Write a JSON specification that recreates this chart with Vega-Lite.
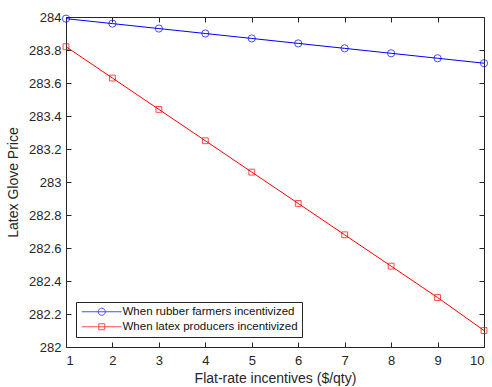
{
  "$schema": "https://vega.github.io/schema/vega-lite/v6.json",
  "width": 418,
  "height": 330,
  "autosize": {"type": "none"},
  "padding": {"left": 66, "top": 17, "right": 8, "bottom": 40},
  "background": "white",
  "config": {
    "font": "Liberation Sans",
    "view": {"stroke": "#262626", "strokeWidth": 1},
    "axis": {
      "grid": false,
      "domain": false,
      "tickColor": "#262626",
      "tickSize": -5,
      "labelColor": "#262626",
      "titleColor": "#262626",
      "labelFontSize": 13,
      "titleFontSize": 14,
      "titleFontWeight": "normal",
      "labelFont": "Liberation Sans",
      "titleFont": "Liberation Sans",
      "format": "~f"
    }
  },
  "data": {
    "values": [
      {"x": 1, "y": 283.99, "s": "When rubber farmers incentivized"},
      {"x": 2, "y": 283.96, "s": "When rubber farmers incentivized"},
      {"x": 3, "y": 283.93, "s": "When rubber farmers incentivized"},
      {"x": 4, "y": 283.90, "s": "When rubber farmers incentivized"},
      {"x": 5, "y": 283.87, "s": "When rubber farmers incentivized"},
      {"x": 6, "y": 283.84, "s": "When rubber farmers incentivized"},
      {"x": 7, "y": 283.81, "s": "When rubber farmers incentivized"},
      {"x": 8, "y": 283.78, "s": "When rubber farmers incentivized"},
      {"x": 9, "y": 283.75, "s": "When rubber farmers incentivized"},
      {"x": 10, "y": 283.72, "s": "When rubber farmers incentivized"},
      {"x": 1, "y": 283.82, "s": "When latex producers incentivized"},
      {"x": 2, "y": 283.63, "s": "When latex producers incentivized"},
      {"x": 3, "y": 283.44, "s": "When latex producers incentivized"},
      {"x": 4, "y": 283.25, "s": "When latex producers incentivized"},
      {"x": 5, "y": 283.06, "s": "When latex producers incentivized"},
      {"x": 6, "y": 282.87, "s": "When latex producers incentivized"},
      {"x": 7, "y": 282.68, "s": "When latex producers incentivized"},
      {"x": 8, "y": 282.49, "s": "When latex producers incentivized"},
      {"x": 9, "y": 282.30, "s": "When latex producers incentivized"},
      {"x": 10, "y": 282.10, "s": "When latex producers incentivized"}
    ]
  },
  "resolve": {"axis": {"x": "independent", "y": "independent"}},
  "layer": [
    {
      "mark": {"type": "line", "strokeWidth": 1},
      "encoding": {
        "x": {"field": "x", "type": "quantitative", "scale": {"domain": [1, 10], "nice": false}, "axis": {"values": [1,2,3,4,5,6,7,8,9,10], "title": "Flat-rate incentives ($/qty)", "labelPadding": 12, "titlePadding": 4}},
        "y": {"field": "y", "type": "quantitative", "scale": {"domain": [282, 284], "nice": false, "zero": false}, "axis": {"values": [282,282.2,282.4,282.6,282.8,283,283.2,283.4,283.6,283.8,284], "title": "Latex Glove Price", "labelPadding": 10, "titlePadding": 8}},
        "color": {
          "field": "s", "type": "nominal",
          "scale": {"domain": ["When rubber farmers incentivized", "When latex producers incentivized"], "range": ["#0000FF", "#FF0000"]},
          "legend": {
            "title": null,
            "orient": "none",
            "legendX": 10,
            "legendY": 285,
            "padding": 4,
            "strokeColor": "#262626",
            "fillColor": "white",
            "labelFontSize": 11.5,
            "labelColor": "#111111",
            "labelLimit": 0,
            "labelOffset": 31,
            "rowPadding": 2,
            "symbolSize": 64,
            "symbolStrokeWidth": 1,
            "symbolFillColor": "transparent"
          }
        }
      }
    },
    {
      "mark": {"type": "point", "filled": false, "strokeWidth": 1, "size": 0},
      "encoding": {
        "x": {"field": "x", "type": "quantitative", "axis": {"orient": "top", "values": [1,2,3,4,5,6,7,8,9,10], "labels": false, "title": null}},
        "y": {"field": "y", "type": "quantitative", "axis": {"orient": "right", "values": [282,282.2,282.4,282.6,282.8,283,283.2,283.4,283.6,283.8,284], "labels": false, "title": null}},
        "color": {"field": "s", "type": "nominal"},
        "shape": {"field": "s", "type": "nominal", "scale": {"domain": ["When rubber farmers incentivized", "When latex producers incentivized"], "range": ["M-1,0 L9,0 M4.9,0 A0.9,0.9 0 1,1 3.1,0 A0.9,0.9 0 1,1 4.9,0", "M-1,0 L9,0 M3.25,-0.75 L4.75,-0.75 L4.75,0.75 L3.25,0.75 Z"]}}
      }
    },
    {
      "transform": [{"filter": "datum.s === 'When rubber farmers incentivized'"}],
      "mark": {"type": "point", "filled": false, "strokeWidth": 1, "size": 52, "shape": "circle", "color": "#0000FF"},
      "encoding": {
        "x": {"field": "x", "type": "quantitative", "axis": null},
        "y": {"field": "y", "type": "quantitative", "axis": null}
      }
    },
    {
      "transform": [{"filter": "datum.s === 'When latex producers incentivized'"}],
      "mark": {"type": "point", "filled": false, "strokeWidth": 1, "size": 34, "shape": "square", "color": "#FF0000"},
      "encoding": {
        "x": {"field": "x", "type": "quantitative", "axis": null},
        "y": {"field": "y", "type": "quantitative", "axis": null}
      }
    }
  ]
}
